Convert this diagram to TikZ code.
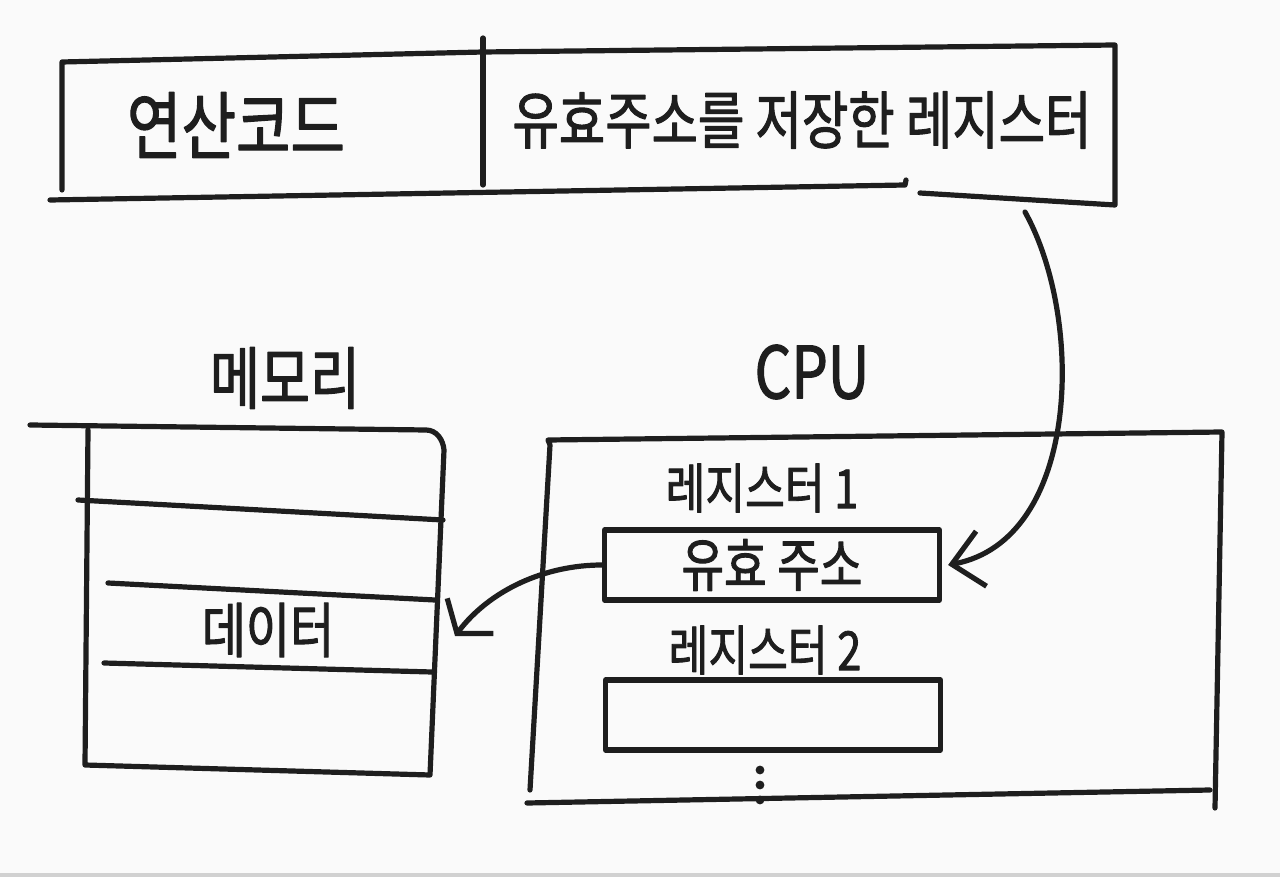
\documentclass[tikz,border=0pt]{standalone}
\usepackage{fontspec}
\setmainfont{Noto Sans CJK KR}
\newfontfamily\narrowfont{Noto Sans CJK KR}[FakeStretch=0.8,FakeBold=1.6]
\usetikzlibrary{arrows.meta}
\definecolor{ink}{HTML}{1E1E1E}
\definecolor{paper}{HTML}{FAFAFA}
\begin{document}
\begin{tikzpicture}[x=1pt,y=-1pt,line width=5.2pt,line cap=round,line join=round,draw=ink,
  lbl/.style={inner sep=0pt,text=ink},
  box/.style={draw,rectangle,inner sep=0pt,minimum width=335pt,minimum height=70pt,text=ink}]
  \fill[paper] (0,0) rectangle (1280,877);
  \fill[black!18] (0,873) rectangle (1280,877);
  % Draw the instruction format
  \draw (62,190) -- (62,62) -- (483,52) -- (1115,45) -- (1115,205) -- (920,193);
  \draw (50,200) -- (905,185) -- (906,180);
  \draw (483,38) -- (483,185);
  \node[lbl,font=\narrowfont\fontsize{74}{74}\selectfont] (opcode) at (236,125) {연산코드};
  \node[lbl,font=\narrowfont\fontsize{63}{63}\selectfont] (addrfield) at (802,120) {유효주소를 저장한 레지스터};
  % Draw the memory
  \node[lbl,font=\narrowfont\fontsize{68}{68}\selectfont] (memlabel) at (285,378) {메모리};
  \draw (30,425) -- (426,430) to[out=0,in=95] (444,450) -- (430,775) -- (85,765) -- (88,430);
  \draw (78,500) -- (443,520);
  \draw (108,583) -- (435,600);
  \draw (104,663) -- (432,672);
  \node[lbl,font=\narrowfont\fontsize{60}{60}\selectfont] (data) at (268,630) {데이터};
  \coordinate (datarow) at (455,636);
  % Draw the CPU
  \node[lbl,font=\narrowfont\fontsize{72}{72}\selectfont] (cpulabel) at (812,372) {CPU};
  \draw (530,790) -- (550,445) -- (548,440) -- (1222,432) -- (1215,808);
  \draw (527,803) -- (1210,790);
  \node[lbl,font=\narrowfont\fontsize{54}{54}\selectfont] (reg1label) at (762,488) {레지스터 1};
  \node[box,font=\narrowfont\fontsize{58}{58}\selectfont] (reg1) at (772,565) {유효 주소};
  \node[lbl,font=\narrowfont\fontsize{54}{54}\selectfont] (reg2label) at (765,650) {레지스터 2};
  \node[box] (reg2) at (773,715) {};
  \foreach \y in {770,785,800}
    \fill[ink] (760,\y) circle (4.4);
  % Draw the arrows
  \coordinate (tail) at (1025,212);
  \draw[-{Straight Barb[length=30pt,width=56pt]}] (tail) .. controls (1085,320) and (1080,540) .. ([xshift=6pt]reg1.east);
  \draw[-{Straight Barb[length=22pt,width=58pt]}] (reg1.west) .. controls (545,565) and (490,590) .. (datarow);
\end{tikzpicture}
\end{document}
